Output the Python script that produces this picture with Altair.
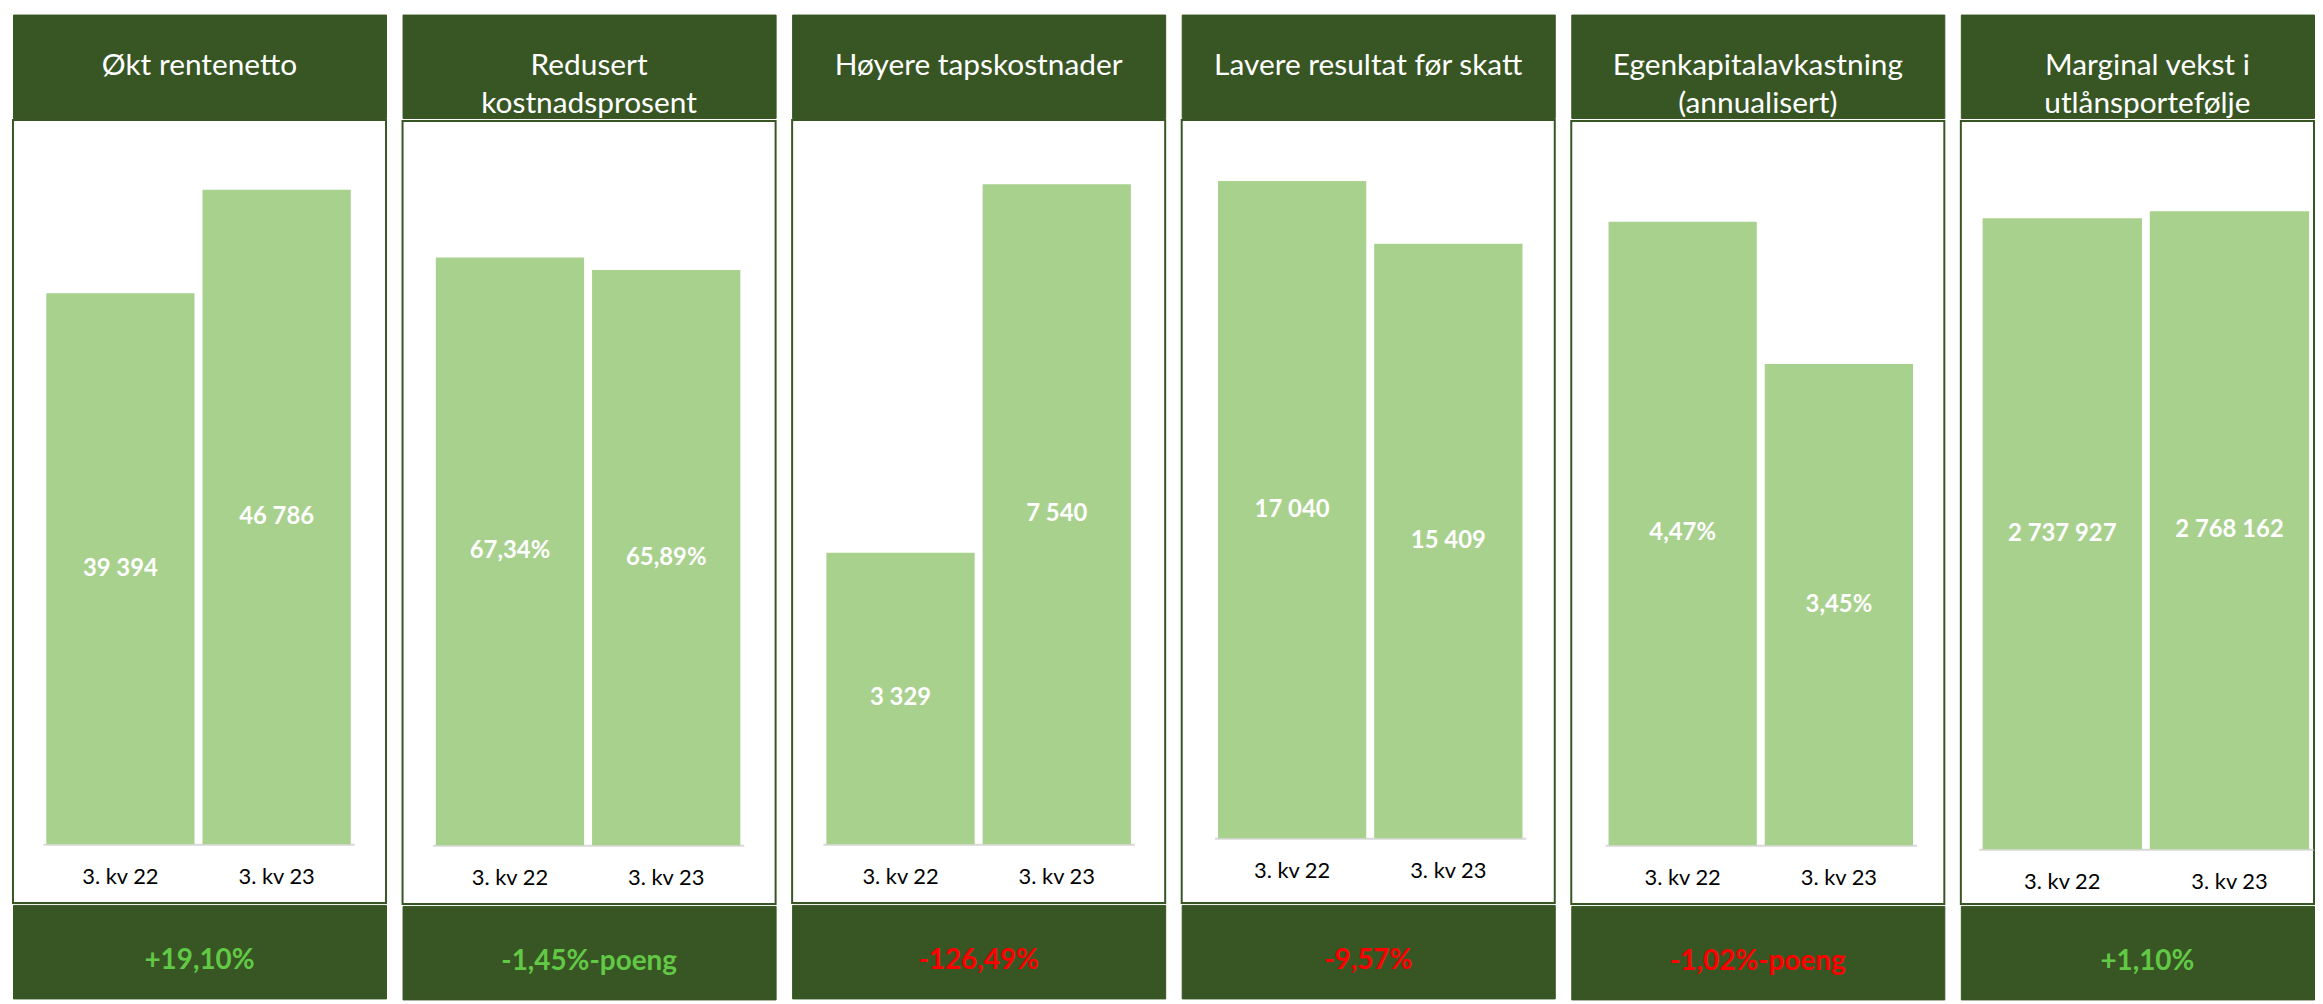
import altair as alt
import pandas as pd

# ---------------- data ----------------
titles = [
    "Økt rentenetto",
    "Redusert\nkostnadsprosent",
    "Høyere tapskostnader",
    "Lavere resultat før skatt",
    "Egenkapitalavkastning\n(annualisert)",
    "Marginal vekst i\nutlånsportefølje",
]
periods = ["3. kv 22", "3. kv 23"]
values_q22 = [39394, 67.34, 3329, 17040, 4.47, 2737927]
values_q23 = [46786, 65.89, 7540, 15409, 3.45, 2768162]
labels_q22 = ["39 394", "67,34%", "3 329", "17 040", "4,47%", "2 737 927"]
labels_q23 = ["46 786", "65,89%", "7 540", "15 409", "3,45%", "2 768 162"]
axis_max = [50000, 80, 8000, 18000, 5, 3000000]
changes = ["+19,10%", "-1,45%-poeng", "-126,49%", "-9,57%", "-1,02%-poeng", "+1,10%"]
change_is_good = [True, True, False, False, False, True]

# ---------------- style / layout ----------------
FONT = "Lato"
DARK = "#385623"
BAR = "#A9D18E"
GOOD = "#62C946"
BAD = "#FF0000"
panel_w = [375, 375, 375, 375, 375, 355]       # last panel is cut by the page edge
text_dx = [0, 0, 0, 0, 0, 10]
HEADER_H = 104
BODY_H = 787
FOOTER_H = 94
baseline_px = [728, 728, 728, 722, 728, 732]   # y of zero inside body
top_px = [25, 26, 24, 24, 27, 37]              # y of axis max inside body
x_start = [30, 30, 31, 33, 34, 18]
x_span = [313, 313, 313, 313, 313, 336]
pad_inner = [0.051, 0.051, 0.051, 0.051, 0.051, 0.047]
pad_outer = [0.022, 0.022, 0.022, 0.022, 0.022, 0.023]


def panel(i):
    w = panel_w[i]
    header = (
        alt.Chart(pd.DataFrame({"t": [titles[i]]}))
        .mark_text(font=FONT, fontSize=30, color="white", lineBreak="\n",
                   lineHeight=38, align="center", baseline="middle", dx=text_dx[i])
        .encode(text="t:N")
        .properties(width=w, height=HEADER_H,
                    view=alt.ViewBackground(fill=DARK, stroke=DARK, strokeWidth=1))
    )

    df = pd.DataFrame({
        "period": periods,
        "value": [values_q22[i], values_q23[i]],
        "label": [labels_q22[i], labels_q23[i]],
    })
    xenc = alt.X(
        "period:N", sort=periods,
        scale=alt.Scale(range=[x_start[i], x_start[i] + x_span[i]],
                        paddingInner=pad_inner[i], paddingOuter=pad_outer[i]),
        axis=alt.Axis(title=None, orient="bottom", offset=-(BODY_H - baseline_px[i]),
                      domainColor="#D9D9D9", domainWidth=2, ticks=False, tickSize=0,
                      labelFont=FONT, labelFontSize=22, labelColor="#000000",
                      labelPadding=22, labelAngle=0),
    )
    yscale = alt.Scale(domain=[0, axis_max[i]], range=[baseline_px[i], top_px[i]])
    bars = alt.Chart(df).mark_bar(color=BAR).encode(
        x=xenc, y=alt.Y("value:Q", scale=yscale, axis=None)
    )
    labels = (
        alt.Chart(df)
        .transform_calculate(mid="datum.value / 2")
        .mark_text(font=FONT, fontSize=24, fontWeight="bold", color="white",
                   align="center", baseline="middle")
        .encode(x=alt.X("period:N", sort=periods),
                y=alt.Y("mid:Q", scale=yscale, axis=None),
                text="label:N")
    )
    body = alt.layer(bars, labels).properties(
        width=w, height=BODY_H,
        view=alt.ViewBackground(fill="white", stroke=DARK, strokeWidth=2),
    )

    footer = (
        alt.Chart(pd.DataFrame({"t": [changes[i]]}))
        .mark_text(font=FONT, fontSize=28, fontWeight="bold",
                   color=GOOD if change_is_good[i] else BAD,
                   align="center", baseline="middle", dx=text_dx[i], dy=9)
        .encode(text="t:N")
        .properties(width=w, height=FOOTER_H,
                    view=alt.ViewBackground(fill=DARK, stroke=DARK, strokeWidth=1))
    )
    return alt.vconcat(header, body, footer, spacing=0)


chart = (
    alt.hconcat(*[panel(i) for i in range(6)], spacing=14.6)
    .properties(padding={"left": 4, "top": 3, "right": 0, "bottom": 0},
                background="white")
)

chart.save("out.html", embed_options={"renderer": "svg", "actions": False})
